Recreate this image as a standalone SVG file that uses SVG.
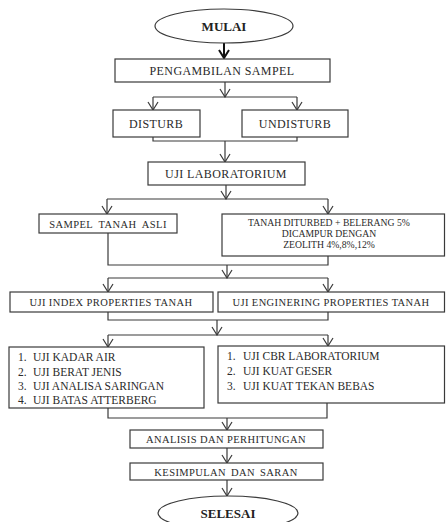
<svg xmlns="http://www.w3.org/2000/svg" width="446" height="522" viewBox="0 0 446 522">
<defs>
<style>
.box{fill:#fff;stroke:#3a3a3a;stroke-width:1.2}
.ln{fill:none;stroke:#3a3a3a;stroke-width:1.2}
.t{font-family:"Liberation Serif",serif;font-size:12px;letter-spacing:0.4px;fill:#2a2a2a;text-anchor:middle}
.s{font-size:9.7px;letter-spacing:0}
.l{font-family:"Liberation Serif",serif;font-size:11.5px;fill:#2a2a2a}
.b{font-family:"Liberation Serif",serif;font-size:13px;font-weight:bold;fill:#222;text-anchor:middle}
</style>
<marker id="ah" markerUnits="userSpaceOnUse" markerWidth="10" markerHeight="12" viewBox="0 0 10 12" refX="9" refY="6" orient="auto">
<path d="M1,1 L9,6 L1,11" fill="none" stroke="#3a3a3a" stroke-width="1.2"/>
</marker>
<marker id="ah2" markerUnits="userSpaceOnUse" markerWidth="10" markerHeight="12" viewBox="0 0 10 12" refX="9" refY="6" orient="auto">
<path d="M1,1 L9,6 L1,11" fill="none" stroke="#111" stroke-width="2"/>
</marker>
</defs>
<rect width="446" height="522" fill="#fff"/>
<g id="connectors">
<path class="ln" d="M224,43 V58" style="stroke:#111;stroke-width:2" marker-end="url(#ah2)"/>
<path class="ln" d="M225,82 V97" marker-end="url(#ah)"/>
<path class="ln" d="M153,97 H297"/>
<path class="ln" d="M153,97 V110" marker-end="url(#ah)"/>
<path class="ln" d="M297,97 V110" marker-end="url(#ah)"/>
<path class="ln" d="M153,137 V141 H297 V137"/>
<path class="ln" d="M225,141 V162" marker-end="url(#ah)"/>
<path class="ln" d="M226,185 V199" marker-end="url(#ah)"/>
<path class="ln" d="M107,199 H328"/>
<path class="ln" d="M107,199 V214" marker-end="url(#ah)"/>
<path class="ln" d="M328,199 V214" marker-end="url(#ah)"/>
<path class="ln" d="M108,233 V265 H328 V256"/>
<path class="ln" d="M227,265 V278" marker-end="url(#ah)"/>
<path class="ln" d="M108,278 H328"/>
<path class="ln" d="M108,278 V292" marker-end="url(#ah)"/>
<path class="ln" d="M328,278 V292" marker-end="url(#ah)"/>
<path class="ln" d="M108,312 V320 H328 V312"/>
<path class="ln" d="M217,320 V335" marker-end="url(#ah)"/>
<path class="ln" d="M108,335 H328"/>
<path class="ln" d="M108,335 V347" marker-end="url(#ah)"/>
<path class="ln" d="M328,335 V346" marker-end="url(#ah)"/>
<path class="ln" d="M108,408 V418 H327 V403"/>
<path class="ln" d="M227,418 V430" marker-end="url(#ah)"/>
<path class="ln" d="M227,448 V463" marker-end="url(#ah)"/>
<path class="ln" d="M227,480 V496" marker-end="url(#ah)"/>
</g>
<g id="mulai">
<ellipse class="box" cx="224" cy="26" rx="69" ry="17"/>
<text class="b" x="224" y="31">MULAI</text>
</g>
<g id="pengambilan">
<rect class="box" x="115" y="59" width="215" height="23"/>
<text class="t" x="222" y="75">PENGAMBILAN SAMPEL</text>
</g>
<g id="disturb">
<rect class="box" x="113" y="110" width="87" height="27"/>
<text class="t" x="156" y="128">DISTURB</text>
</g>
<g id="undisturb">
<rect class="box" x="242" y="110" width="106" height="27"/>
<text class="t" x="295" y="128">UNDISTURB</text>
</g>
<g id="uji-lab">
<rect class="box" x="148" y="162" width="157" height="23"/>
<text class="t" x="226" y="178">UJI LABORATORIUM</text>
</g>
<g id="sampel-asli">
<rect class="box" x="39" y="214" width="138" height="19"/>
<text class="t" x="108" y="228" style="font-size:10.5px;word-spacing:3px">SAMPEL TANAH ASLI</text>
</g>
<g id="tanah-disturbed">
<rect class="box" x="222" y="214" width="222.5" height="42"/>
<text class="t s" x="329" y="226">TANAH DITURBED + BELERANG 5%</text>
<text class="t s" x="329" y="237">DICAMPUR DENGAN</text>
<text class="t s" x="329" y="248">ZEOLITH 4%,8%,12%</text>
</g>
<g id="uji-index">
<rect class="box" x="10" y="292" width="203" height="20"/>
<text class="t" x="111" y="306" style="font-size:10.5px">UJI INDEX PROPERTIES TANAH</text>
</g>
<g id="uji-engineering">
<rect class="box" x="218" y="292" width="226.5" height="20"/>
<text class="t" x="331" y="306" style="font-size:10.5px">UJI ENGINERING PROPERTIES TANAH</text>
</g>
<g id="list-index">
<rect class="box" x="9" y="347" width="195" height="61"/>
<text class="l" x="18" y="361">1.</text><text class="l" x="33" y="361">UJI KADAR AIR</text>
<text class="l" x="18" y="376">2.</text><text class="l" x="33" y="376">UJI BERAT JENIS</text>
<text class="l" x="18" y="390">3.</text><text class="l" x="33" y="390">UJI ANALISA  SARINGAN</text>
<text class="l" x="18" y="404">4.</text><text class="l" x="33" y="404">UJI BATAS ATTERBERG</text>
</g>
<g id="list-engineering">
<rect class="box" x="218" y="346" width="226.5" height="57"/>
<text class="l" x="227" y="360">1.</text><text class="l" x="243" y="360">UJI CBR LABORATORIUM</text>
<text class="l" x="227" y="375">2.</text><text class="l" x="243" y="375">UJI KUAT GESER</text>
<text class="l" x="227" y="390">3.</text><text class="l" x="243" y="390">UJI KUAT TEKAN BEBAS</text>
</g>
<g id="analisis">
<rect class="box" x="130" y="430" width="193" height="18"/>
<text class="t" x="226" y="443" style="font-size:10.5px">ANALISIS DAN PERHITUNGAN</text>
</g>
<g id="kesimpulan">
<rect class="box" x="130" y="463" width="193" height="17"/>
<text class="t" x="226" y="476" style="font-size:10.5px;word-spacing:2px">KESIMPULAN DAN SARAN</text>
</g>
<g id="selesai">
<ellipse class="box" cx="228" cy="513" rx="70" ry="17"/>
<text class="b" x="228" y="518">SELESAI</text>
</g>
</svg>
